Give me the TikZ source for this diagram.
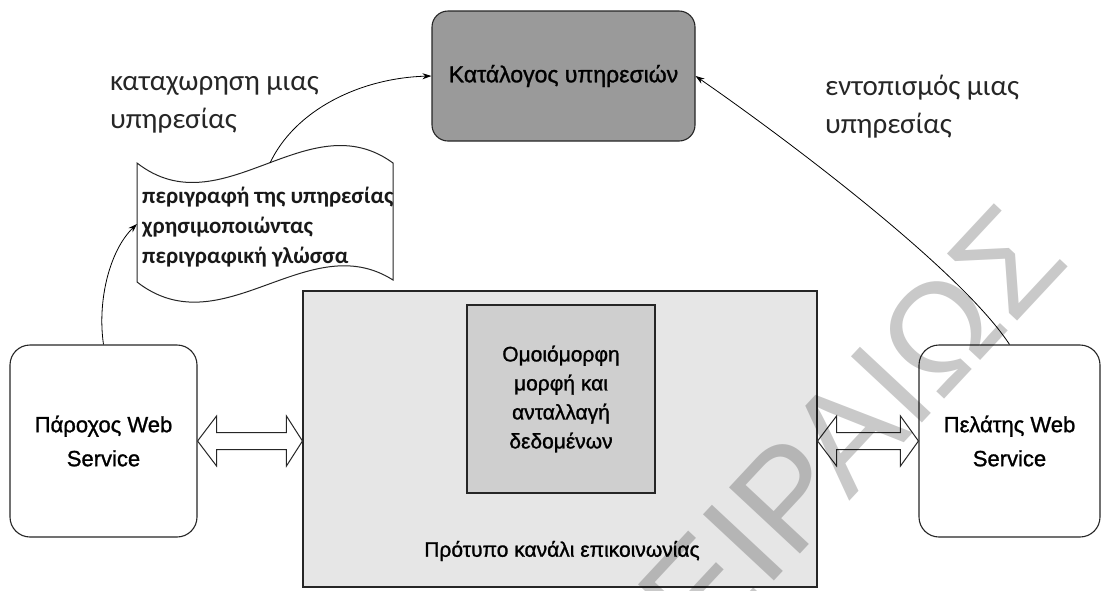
\documentclass[tikz,border=0pt]{standalone}
\usepackage{fontspec}
\setmainfont{Liberation Sans}
\newfontfamily\boxfont[FakeBold=1.2]{Liberation Sans}
\newfontfamily\labelfont{Carlito}
\usetikzlibrary{arrows.meta,calc}
\definecolor{catgray}{HTML}{9A9A9A}
\definecolor{chanfill}{HTML}{E6E6E6}
\definecolor{fmtfill}{HTML}{CFCFCF}

\begin{document}
\begin{tikzpicture}[x=1pt,y=-1pt,
  box/.style={draw=black!85, line width=1.1pt, align=center, inner sep=0pt,
    font=\boxfont\fontsize{22}{34}\selectfont},
  soft/.style={box, rounded corners=20pt},
  link/.style={draw=black, line width=0.8pt, -{Stealth[length=9pt,width=6pt]}},
  dbl/.style={draw=black!85, line width=1pt, fill=white, line join=miter},
  caption/.style={font=\labelfont\fontsize{29}{38}\selectfont, align=left,
    anchor=west, inner sep=0pt, text=black!85},
]
\useasboundingbox (0,0) rectangle (1101,590);
\clip (0,0) rectangle (1101,590);

% service catalogue
\node[soft, fill=catgray, minimum width=263pt, minimum height=130pt,
  rounded corners=16pt, font=\boxfont\fontsize{23}{34}\selectfont] (cat) at (563.5,76)
  {Κατάλογος υπηρεσιών};

% communication channel with the common data format inside
\node[box, fill=chanfill, minimum width=514pt, minimum height=296pt] (chan) at (560,439) {};
\node[box, fill=fmtfill, minimum width=188pt, minimum height=188pt,
  font=\boxfont\fontsize{21}{29}\selectfont] (fmt) at (561,399)
  {Ομοιόμορφη\\μορφή και\\ανταλλαγή\\δεδομένων};
\node[font=\boxfont\fontsize{21}{29}\selectfont, inner sep=0pt] (chanlbl) at (562,551)
  {Πρότυπο κανάλι επικοινωνίας};

% provider and client
\node[soft, fill=white, minimum width=187pt, minimum height=192pt] (prov) at (103.5,441)
  {Πάροχος Web\\Service};
\node[soft, fill=white, minimum width=181pt, minimum height=192pt] (cli) at (1009.5,441)
  {Πελάτης Web\\Service};

% service description document (wavy top and bottom)
\draw[line width=1pt, draw=black!85, fill=white]
  (137,163) .. controls (222,229) and (308,101) .. (393,163)
  -- (393,280) .. controls (308,226) and (222,348) .. (137,282) -- cycle;
\node[anchor=west, align=left, inner sep=0pt, text=black!90,
  font=\labelfont\bfseries\fontsize{23}{30}\selectfont] (doc) at (142,227)
  {περιγραφή της υπηρεσίας\\χρησιμοποιώντας\\περιγραφική γλώσσα};
\coordinate (docL) at (137,224);
\coordinate (docT) at (270,163);

% captions
\node[caption] (reg) at (110,105) {καταχωρηση μιας\\υπηρεσίας};
\node[caption] (loc) at (825,107) {εντοπισμός μιας\\υπηρεσίας};

% connectors
\draw[link] (prov.north) .. controls (97,300) and (110,250) .. (docL);
\draw[link] (docT) .. controls (295,110) and (360,78) .. (cat.west);
\draw[link] (cli.north) .. controls (962,272) and (795,145) .. (cat.east);

% two-way block arrows
\draw[dbl] (prov.east) -- ++(19,-25) -- ++(0,16.5)
  -- ($(prov.east -| chan.west)+(-16,-8.5)$) -- ++(0,-16.5)
  -- (prov.east -| chan.west) -- ++(-16,25) -- ++(0,-16.5)
  -- ($(prov.east)+(19,8.5)$) -- ++(0,16.5) -- cycle;
\draw[dbl] (cli.west -| chan.east) -- ++(19,-25) -- ++(0,16.5)
  -- ($(cli.west)+(-18,-8.5)$) -- ++(0,-16.5)
  -- (cli.west) -- ++(-18,25) -- ++(0,-16.5)
  -- ($(cli.west -| chan.east)+(19,8.5)$) -- ++(0,16.5) -- cycle;

% watermark
\node[rotate=47, text=black, opacity=0.21, inner sep=0pt,
  font=\fontsize{141}{141}\selectfont] (mark) at (816,465) {ΠΕΙΡΑΙΩΣ};
\end{tikzpicture}
\end{document}
